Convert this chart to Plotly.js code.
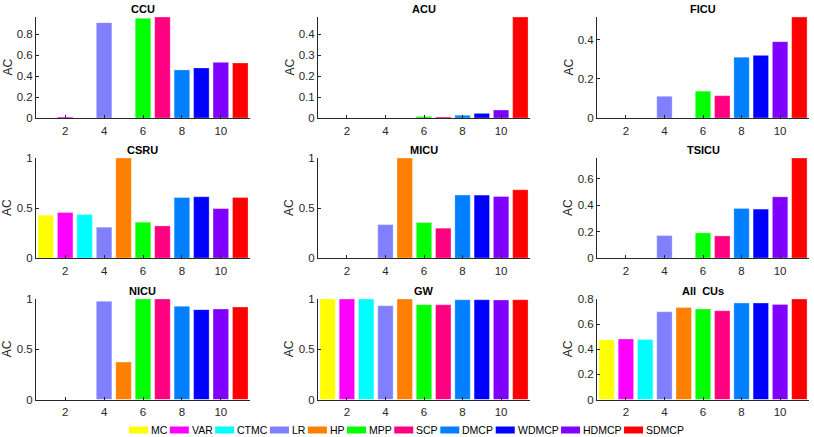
<!DOCTYPE html>
<html>
<head>
<meta charset="utf-8">
<script src="https://cdn.plot.ly/plotly-3.0.1.min.js"></script>
<style>html,body{margin:0;padding:0;background:#fff;}#chart{width:814px;height:437px;}</style>
</head>
<body>
<div id="chart"></div>
<script>
const methods = ['MC','VAR','CTMC','LR','HP','MPP','SCP','DMCP','WDMCP','HDMCP','SDMCP'];
const methodColors = ['#FFFF00','#FF00FF','#00FFFF','#8080FF','#FF8000','#00FF00','#FF0080','#0080FF','#0000FF','#8000FF','#FF0000'];
const units = ['CCU','ACU','FICU','CSRU','MICU','TSICU','NICU','GW','All  CUs'];
const CCU   = [0, 0.01, 0, 0.913, 0, 0.954, 0.967, 0.46, 0.479, 0.533, 0.527];
const ACU   = [0, 0, 0, 0, 0, 0.007, 0.005, 0.013, 0.022, 0.038, 0.481];
const FICU  = [0, 0, 0, 0.111, 0, 0.137, 0.114, 0.311, 0.32, 0.39, 0.516];
const CSRU  = [0.428, 0.455, 0.435, 0.308, 1.0, 0.358, 0.321, 0.605, 0.612, 0.494, 0.605];
const MICU  = [0, 0, 0, 0.334, 1.0, 0.354, 0.298, 0.629, 0.629, 0.615, 0.682];
const TSICU = [0, 0, 0, 0.17, 0, 0.19, 0.167, 0.375, 0.37, 0.463, 0.757];
const NICU  = [0, 0, 0, 0.977, 0.372, 1.0, 1.0, 0.927, 0.894, 0.9, 0.92];
const GW    = [1.0, 1.0, 1.0, 0.934, 1.0, 0.943, 0.943, 0.993, 0.993, 0.99, 0.993];
const ALL   = [0.474, 0.482, 0.477, 0.698, 0.733, 0.72, 0.706, 0.768, 0.768, 0.757, 0.8];
const unitValues = [CCU, ACU, FICU, CSRU, MICU, TSICU, NICU, GW, ALL];
const yTickStep = [0.2, 0.1, 0.2, 0.5, 0.5, 0.2, 0.5, 0.5, 0.2];
const xTicks = [2, 4, 6, 8, 10];

const W = 814, H = 437;
const colDom = [[36, 250], [318, 530], [597, 809]];
const rowDom = [[17, 118], [158, 258], [299, 399.5]];
const FONT = 'Liberation Sans, Arial, sans-serif';

const traces = [];
const layout = {
  width: W, height: H,
  margin: {l: 0, r: 0, t: 0, b: 0},
  paper_bgcolor: '#fff', plot_bgcolor: '#fff',
  barmode: 'overlay',
  font: {family: FONT, size: 11, color: '#262626'},
  showlegend: false,
  annotations: [],
  shapes: []
};

unitValues.forEach((vals, k) => {
  const r = Math.floor(k / 3), c = k % 3;
  const sfx = k === 0 ? '' : String(k + 1);
  vals.forEach((v, i) => {
    traces.push({
      type: 'bar', x: [i + 1], y: [v], width: 0.8,
      xaxis: 'x' + sfx, yaxis: 'y' + sfx,
      name: methods[i], showlegend: false,
      marker: {color: methodColors[i], line: {color: 'rgba(255,255,255,0.6)', width: 0.5}},
      hoverinfo: 'name+y'
    });
  });
  const xd = [colDom[c][0] / W, colDom[c][1] / W];
  const yd = [1 - rowDom[r][1] / H, 1 - rowDom[r][0] / H];
  layout['xaxis' + sfx] = {
    domain: xd, range: [0.5, 11.5], anchor: 'y' + sfx,
    tickvals: xTicks, ticks: 'inside', ticklen: 3, tickcolor: '#262626',
    showline: true, linecolor: '#262626', linewidth: 1, showgrid: false, zeroline: false,
    tickfont: {size: 11.5, color: '#262626'}, ticklabelstandoff: 2, fixedrange: true
  };
  layout['yaxis' + sfx] = {
    domain: yd, range: [0, Math.max(...vals)], anchor: 'x' + sfx,
    dtick: yTickStep[k], tick0: 0, ticks: 'inside', ticklen: 3, tickcolor: '#262626',
    showline: true, linecolor: '#262626', linewidth: 1, showgrid: false, zeroline: false,
    tickfont: {size: 11.5, color: '#262626'}, fixedrange: true
  };
  // subplot title
  layout.annotations.push({
    text: '<b>' + units[k] + '</b>', xref: 'paper', yref: 'paper',
    x: (xd[0] + xd[1]) / 2, y: yd[1], xanchor: 'center', yanchor: 'bottom',
    showarrow: false, font: {size: 11, color: '#000'}
  });
  // y-axis label
  layout.annotations.push({
    text: 'AC', xref: 'paper', yref: 'paper', textangle: -90,
    x: xd[0], xshift: -29, y: (yd[0] + yd[1]) / 2, xanchor: 'center', yanchor: 'middle',
    showarrow: false, font: {size: 12, color: '#262626'}
  });
});

// legend row (drawn as shapes + text, laid out from measured text widths)
(function buildLegend() {
  const fs = 10.5;
  const ctx = document.createElement('canvas').getContext('2d');
  ctx.font = fs + 'px "Liberation Sans", Arial, sans-serif';
  const swW = 19, swH = 7, gapIn = 2, gapOut = 3.5;
  let x = 129;
  const yc = 430;
  methods.forEach((m, i) => {
    layout.shapes.push({
      type: 'rect', xref: 'paper', yref: 'paper',
      x0: x / W, x1: (x + swW) / W, y0: 1 - (yc + swH / 2) / H, y1: 1 - (yc - swH / 2) / H,
      fillcolor: methodColors[i], line: {width: 0}
    });
    const tw = ctx.measureText(m).width;
    layout.annotations.push({
      text: m, xref: 'paper', yref: 'paper', x: (x + swW + gapIn) / W, y: 1 - yc / H,
      xanchor: 'left', yanchor: 'middle', showarrow: false, borderpad: 0,
      font: {size: fs, color: '#000'}
    });
    x += swW + gapIn + tw + gapOut;
  });
})();

Plotly.newPlot('chart', traces, layout, {displayModeBar: false, staticPlot: true});
</script>
</body>
</html>
